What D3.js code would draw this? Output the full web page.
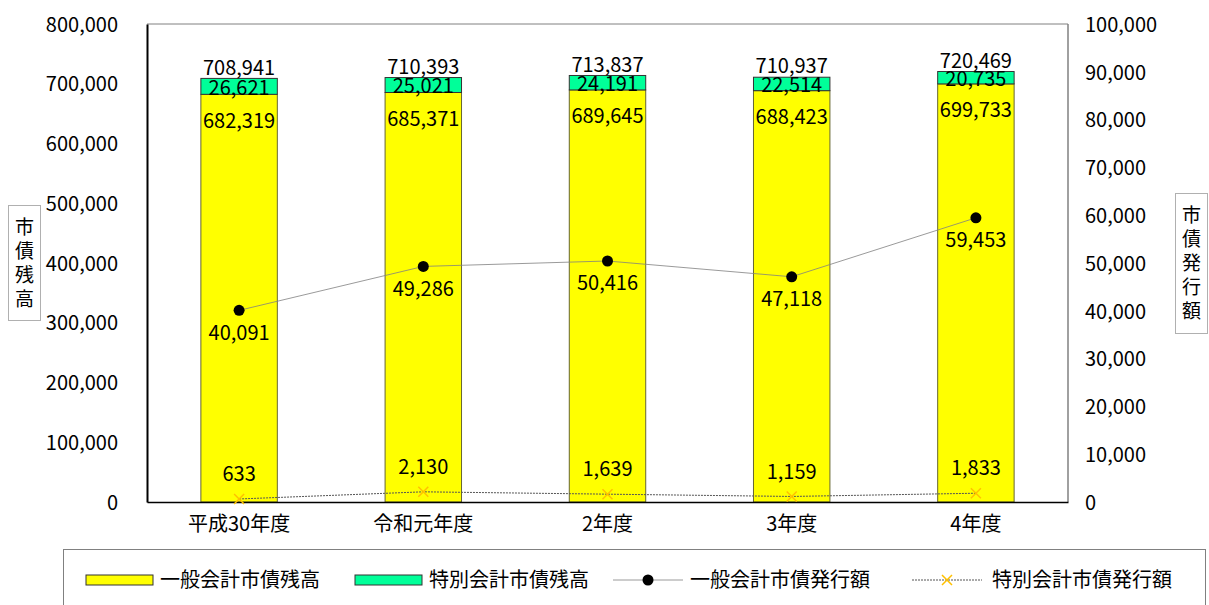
<!DOCTYPE html>
<html><head><meta charset="utf-8">
<script src="https://cdn.jsdelivr.net/npm/d3@7"></script>
<style>
html,body{margin:0;padding:0;background:#fff;}
svg{display:block;}
.num{font-family:'Noto Sans CJK JP',sans-serif;}
.cjk{font-family:'Noto Sans CJK JP',sans-serif;}
</style></head>
<body>
<svg id="chart" width="1209" height="605"></svg>
<script>
const categories = ["平成30年度","令和元年度","2年度","3年度","4年度"];
const generalBalance = [682319, 685371, 689645, 688423, 699733];
const specialBalance = [26621, 25021, 24191, 22514, 20735];
const totalBalance = [708941, 710393, 713837, 710937, 720469];
const generalIssue = [40091, 49286, 50416, 47118, 59453];
const specialIssue = [633, 2130, 1639, 1159, 1833];
const leftTicks = [0,100000,200000,300000,400000,500000,600000,700000,800000];
const rightTicks = [0,10000,20000,30000,40000,50000,60000,70000,80000,90000,100000];
const seriesNames = ["一般会計市債残高","特別会計市債残高","一般会計市債発行額","特別会計市債発行額"];
const leftTitle = "市債残高";
const rightTitle = "市債発行額";

const svg = d3.select("#chart");
const L = 147, R = 1068, T = 24, B = 502;
const fmt = d3.format(",");
const yL = d3.scaleLinear().domain([0,800000]).range([B,T]);
const yR = d3.scaleLinear().domain([0,100000]).range([B,T]);
const x = d3.scaleBand().domain(categories).range([L,R]).padding(0);
const bw = x.bandwidth()*0.415;
const cx = c => x(c) + x.bandwidth()/2;

const numStyle = s => s.attr("class","num").attr("font-size",20).attr("fill","#000");

// frame
svg.append("line").attr("x1",L).attr("x2",R).attr("y1",T).attr("y2",T).attr("stroke","#808080").attr("stroke-width",1);
svg.append("line").attr("x1",R).attr("x2",R).attr("y1",T).attr("y2",B).attr("stroke","#808080").attr("stroke-width",1.5);

// left axis
const gL = svg.append("g").attr("transform",`translate(${L},0)`)
  .call(d3.axisLeft(yL).tickValues(leftTicks).tickFormat(fmt).tickSize(0).tickPadding(29));
gL.select(".domain").attr("stroke","#000").attr("stroke-width",2);
gL.selectAll("text").call(numStyle).attr("dy","0.36em");

// right axis
const gR = svg.append("g").attr("transform",`translate(${R},0)`)
  .call(d3.axisRight(yR).tickValues(rightTicks).tickFormat(fmt).tickSize(0).tickPadding(17));
gR.select(".domain").attr("stroke","none");
gR.selectAll("text").call(numStyle).attr("dy","0.36em");

// bars
const bars = svg.append("g");
categories.forEach((c,i)=>{
  bars.append("rect").attr("x",cx(c)-bw/2).attr("width",bw)
    .attr("y",yL(generalBalance[i])).attr("height",yL(0)-yL(generalBalance[i]))
    .attr("fill","#FFFF00").attr("stroke","#666633").attr("stroke-width",1);
  bars.append("rect").attr("x",cx(c)-bw/2).attr("width",bw)
    .attr("y",yL(generalBalance[i]+specialBalance[i])).attr("height",yL(generalBalance[i])-yL(generalBalance[i]+specialBalance[i]))
    .attr("fill","#00FF99").attr("stroke","#333333").attr("stroke-width",1);
});

// bottom axis
const gB = svg.append("g").attr("transform",`translate(0,${B})`)
  .call(d3.axisBottom(x).tickSize(0).tickPadding(15));
gB.select(".domain").attr("stroke","#000").attr("stroke-width",1.5);
gB.selectAll("text").attr("class","cjk").attr("font-size",20).attr("fill","#000");

// bar labels
const lab = svg.append("g");
categories.forEach((c,i)=>{
  lab.append("text").call(numStyle).attr("text-anchor","middle").attr("x",cx(c))
    .attr("y",yL(totalBalance[i])-11).attr("dy","0.36em").text(fmt(totalBalance[i]));
  lab.append("text").call(numStyle).attr("text-anchor","middle").attr("x",cx(c))
    .attr("y",(yL(generalBalance[i])+yL(generalBalance[i]+specialBalance[i]))/2+1).attr("dy","0.36em").text(fmt(specialBalance[i]));
  lab.append("text").call(numStyle).attr("text-anchor","middle").attr("x",cx(c))
    .attr("y",yL(generalBalance[i])+26).attr("dy","0.36em").text(fmt(generalBalance[i]));
});

// lines
const lineG = d3.line().x((d,i)=>cx(categories[i])).y(d=>yR(d));
svg.append("path").datum(generalIssue).attr("d",lineG).attr("fill","none").attr("stroke","#808080").attr("stroke-width",0.8);
svg.append("path").datum(specialIssue).attr("d",lineG).attr("fill","none").attr("stroke","#555").attr("stroke-width",1).attr("stroke-dasharray","2,1");
generalIssue.forEach((v,i)=>{
  svg.append("circle").attr("cx",cx(categories[i])).attr("cy",yR(v)).attr("r",5.5).attr("fill","#000");
  svg.append("text").call(numStyle).attr("text-anchor","middle").attr("x",cx(categories[i]))
    .attr("y",yR(v)+22).attr("dy","0.36em").text(fmt(v));
});
const xm = (g,px,py,s)=>{
  g.append("path").attr("d",`M${px-s},${py-s}L${px+s},${py+s}M${px-s},${py+s}L${px+s},${py-s}`)
   .attr("stroke","#FFC000").attr("stroke-width",1.5).attr("fill","none");
};
specialIssue.forEach((v,i)=>{
  xm(svg,cx(categories[i]),yR(v),5);
  svg.append("text").call(numStyle).attr("text-anchor","middle").attr("x",cx(categories[i]))
    .attr("y",yR(v)-25).attr("dy","0.36em").text(fmt(v));
});

// axis titles
function vTitle(txt, x0, yTop, w, h){
  svg.append("rect").attr("x",x0).attr("y",yTop).attr("width",w).attr("height",h)
    .attr("fill","#fff").attr("stroke","#b0b0b0").attr("stroke-width",1);
  const chars = Array.from(txt);
  const pitch = 24;
  const start = yTop + h/2 - (chars.length-1)*pitch/2;
  chars.forEach((ch,k)=>{
    svg.append("text").attr("class","cjk").attr("font-size",19).attr("text-anchor","middle")
      .attr("x",x0+w/2).attr("y",start+k*pitch).attr("dy","0.36em").text(ch);
  });
}
vTitle(leftTitle, 8.5, 205.5, 32, 115);
vTitle(rightTitle, 1175.5, 193.5, 32, 140);

// legend
const lg = svg.append("g");
lg.append("rect").attr("x",63.5).attr("y",549.5).attr("width",1142).attr("height",70)
  .attr("fill","none").attr("stroke","#808080").attr("stroke-width",1);
const ly = 580;
const items = [
  {x:86, type:"bar", color:"#FFFF00", tx:160},
  {x:355, type:"bar", color:"#00FF99", tx:429},
  {x:613, type:"lineDot", tx:690},
  {x:912, type:"lineX", tx:992}
];
items.forEach((it,k)=>{
  if(it.type==="bar"){
    lg.append("rect").attr("x",it.x).attr("y",ly-5).attr("width",67).attr("height",10)
      .attr("fill",it.color).attr("stroke","#333").attr("stroke-width",1);
  } else if(it.type==="lineDot"){
    lg.append("line").attr("x1",it.x).attr("x2",it.x+70).attr("y1",ly).attr("y2",ly).attr("stroke","#808080").attr("stroke-width",0.8);
    lg.append("circle").attr("cx",it.x+35).attr("cy",ly).attr("r",5.5).attr("fill","#000");
  } else {
    lg.append("line").attr("x1",it.x).attr("x2",it.x+70).attr("y1",ly).attr("y2",ly).attr("stroke","#555").attr("stroke-width",1).attr("stroke-dasharray","2,1");
    xm(lg,it.x+35,ly,5);
  }
  lg.append("text").attr("class","cjk").attr("font-size",20).attr("x",it.tx).attr("y",ly).attr("dy","0.36em").text(seriesNames[k]);
});
</script>
</body></html>
